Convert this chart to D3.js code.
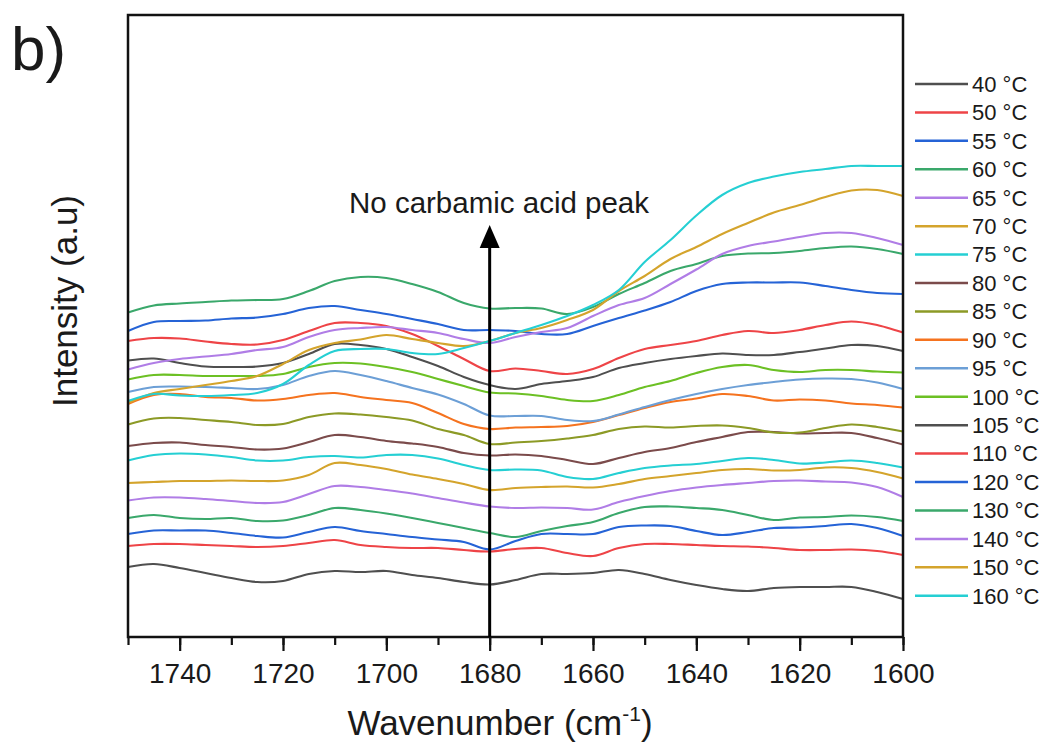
<!DOCTYPE html>
<html>
<head>
<meta charset="utf-8">
<script src="https://cdn.jsdelivr.net/npm/d3@7"></script>
<style>
  body { margin: 0; background: #fff; }
  svg { display: block; }
  text { font-family: "Liberation Sans", Arial, sans-serif; fill: #1a1a1a; }
</style>
</head>
<body>
<svg id="chart" width="1045" height="746"></svg>
<script>
// Wavenumber grid (cm-1), shared by every spectrum
const wavenumbers = d3.range(1750, 1599, -5);

const temperatures = ["40 °C", "50 °C", "55 °C", "60 °C", "65 °C", "70 °C", "75 °C", "80 °C", "85 °C",
  "90 °C", "95 °C", "100 °C", "105 °C", "110 °C", "120 °C", "130 °C", "140 °C", "150 °C", "160 °C"];

const colors = ["#4f4f4f", "#ee4447", "#2563d6", "#3aa86b", "#b07de6", "#d4a42c", "#25cfd3", "#7b4b4b", "#8c9a26",
  "#f5731f", "#6c9fd6", "#6cc024", "#4f4f4f", "#ee4447", "#2563d6", "#3aa86b", "#b07de6", "#d4a42c", "#25cfd3"];

// Stacked intensities (a.u.), one value per wavenumber
const s40  = [70,73,69,64,59,55,56,63,66,65,66,62,59,55,52.5,57,63,63,64,67,63,57,52,48,46,49,50,50,50,45,38];
const s50  = [91,93,93,92,91,90,91,94,97,92,90,89,89,87,85.5,88,89,84,81,89,93,93,92,91,90.5,89,87,87,87.5,86,82];
const s55  = [103,106.5,106.5,106.5,104,101,99.5,105,110,106,103,100,97.5,95,87.5,96,103,103,103,110,111.5,111,106,102,105,109,109.5,111,113,109,101];
const s60  = [119,122,119,118,119,116,116.5,122,129,127,123.5,119,114,109,104,100,106,111,115,124,130,130.5,129,127,122,117,119.5,120,121.5,120,116];
const s65  = [136.5,139.5,139.5,138,136,134,135,143,151,150,147,143.5,139,134.5,130.5,129,129.5,129,127.5,135,141,146,149.5,152,154,156,156.5,155.5,154.5,150,140];
const s70  = [154,155,156,156,156.5,156,156.5,162,174,172,168,162.5,158,153,147,149,150,150.5,149.5,153,158,161,164,167,168,166.5,167,169.5,169,165,158.5];
const s75  = [176.5,182,183.5,182.5,180,176.5,176.5,180,181,179.5,182,182,178.5,172,167,167.5,166.5,160,158,164,169,171.5,173,176,179,177,173.5,174.5,176.5,174,169.5];
const s80  = [191,194,194.5,192,190,187.5,188.5,195,202,200,196,193.5,190,184,181.5,182.5,181,177,173,179,185,189,195,200,205,205,203.5,204,204,199,192.5];
const s85  = [212.5,218.5,219,217,215,212,213,220,223.5,222.5,220,216.5,208,202,193,194.5,196,198.5,202,208,210.5,209.5,211,211.5,209,204.5,204.5,209,212.5,210,205.5];
const s90  = [233,242,243,240,239,236.5,238,242,244,240,237,234,224,213,208,209.5,210,211,215,222,229,235,238.5,243,241,236.5,237.5,236.5,233.5,232,229.5];
const s95  = [245,250,250.5,250,249,248,252,261,266,262,256,249,242.5,233,221.5,221,221,217,216,222.5,230,237,243,248,252,255,257.5,258.5,258,254.5,248];
const s100 = [257.5,262,262,261,261,261,263,270,274,273.5,270,265,258,251,244.5,243.5,241,237,236,242,250,256,264,270,272,267,265,267,267,265.5,264.5];
const s105 = [276.5,278.5,274,270.5,270,270.5,274,283,293,292,288,280,271,260,252,248,253,256,260,269,274,278,281,283.5,282,282,285,288.5,292,291,286];
const s110 = [296,299,298.5,295.5,293,292.5,297,306,314,314,311,303,291,278,266,268.5,266,263,268,279,288,292,296,302,306,304,307,312,315.5,312,304.5];
const s120 = [306,315,316,316.5,318.5,319.5,323,329,331,327,323,318,313,307,307,306,303,303,311,319,326.5,335,346,353,354.5,354.5,354.5,351,347,344,343];
const s130 = [324.5,331.5,333.5,335,336.5,337,338,346,356,360,359,353,345,334,328.5,329,328.5,323,330,343,354,366,373,381,383.5,384,386,389,390.5,388,383];
const s140 = [267.5,274,278,280.5,283,287,290,300,307,309,310,307,304,298,294,300,305,309,321,332,339,353,367.5,383,391,395.5,400,404,404,399,392];
const s150 = [234,244,248,252,256,261,273,287,294,297.5,302,298,294,291,296,304,309,317,327,346,361,378,390,403,414,424.5,432,440,446.5,447,441];
const s160 = [236,243,241.5,241,242,244,253,272,286,288,288,284,283,289,296,304,312,321,332,347,375,397,421.5,442,454,460.5,465,468,471,471,471];

const spectra = [s40, s50, s55, s60, s65, s70, s75, s80, s85, s90, s95, s100, s105, s110, s120, s130, s140, s150, s160];

const majorTicks = d3.range(1740, 1599, -20);
const minorTicks = d3.range(1750, 1599, -10);
const arrowAt = 1680;
const arrowLabel = "No carbamic acid peak";

const svg = d3.select("#chart");
const plot = { left: 128, right: 903, top: 15, bottom: 637 };

const x = d3.scaleLinear().domain([1750, 1600]).range([plot.left, plot.right]);
const y = d3.scaleLinear().domain([0, 622]).range([plot.bottom, plot.top]);

// Spectra
const line = d3.line()
  .x((d, i) => x(wavenumbers[i]))
  .y(d => y(d))
  .curve(d3.curveCatmullRom.alpha(0.5));

svg.append("g")
  .selectAll("path")
  .data(spectra)
  .join("path")
  .attr("d", line)
  .attr("fill", "none")
  .attr("stroke", (d, i) => colors[i])
  .attr("stroke-width", 2.1)
  .attr("stroke-linejoin", "round");

// Frame
svg.append("rect")
  .attr("x", plot.left).attr("y", plot.top)
  .attr("width", plot.right - plot.left).attr("height", plot.bottom - plot.top)
  .attr("fill", "none").attr("stroke", "#111").attr("stroke-width", 2.5);

// Bottom axis: minor ticks every 10, labelled majors every 20
const minorAxis = svg.append("g")
  .attr("transform", `translate(0,${plot.bottom})`)
  .call(d3.axisBottom(x).tickValues(minorTicks).tickSize(8).tickFormat(""));
minorAxis.select(".domain").remove();
minorAxis.selectAll("line").attr("stroke", "#111").attr("stroke-width", 2.2);

const majorAxis = svg.append("g")
  .attr("transform", `translate(0,${plot.bottom})`)
  .call(d3.axisBottom(x).tickValues(majorTicks).tickSize(14).tickPadding(12).tickFormat(d3.format("d")));
majorAxis.select(".domain").remove();
majorAxis.selectAll("line").attr("stroke", "#111").attr("stroke-width", 2.2);
majorAxis.selectAll("text")
  .attr("font-size", 28)
  .attr("font-family", "'Liberation Sans', Arial, sans-serif")
  .attr("fill", "#1a1a1a");

// Axis titles
const xTitle = svg.append("text")
  .attr("x", 500).attr("y", 735)
  .attr("text-anchor", "middle")
  .attr("font-size", 35);
xTitle.append("tspan").text("Wavenumber (cm");
xTitle.append("tspan").text("-1").attr("font-size", 21).attr("dy", -14);
xTitle.append("tspan").text(")").attr("dy", 14);

svg.append("text")
  .attr("transform", "translate(77,301) rotate(-90)")
  .attr("text-anchor", "middle")
  .attr("font-size", 35)
  .text("Intensity (a.u)");

// Panel letter
svg.append("text")
  .attr("x", 11).attr("y", 70)
  .attr("font-size", 62)
  .text("b)");

// Arrow marking 1680 cm-1
const ax = x(arrowAt);
svg.append("line")
  .attr("x1", ax).attr("x2", ax)
  .attr("y1", plot.bottom).attr("y2", 244)
  .attr("stroke", "#000").attr("stroke-width", 3);
svg.append("path")
  .attr("d", `M${ax},225 L${ax - 10},248 L${ax + 10},248 Z`)
  .attr("fill", "#000");
svg.append("text")
  .attr("x", 499).attr("y", 213)
  .attr("text-anchor", "middle")
  .attr("font-size", 29.5)
  .text(arrowLabel);

// Legend
const legend = svg.append("g");
const rowH = 28.43;
temperatures.forEach((t, i) => {
  const cy = 84 + i * rowH;
  legend.append("line")
    .attr("x1", 915).attr("x2", 968)
    .attr("y1", cy).attr("y2", cy)
    .attr("stroke", colors[i]).attr("stroke-width", 2.5);
  legend.append("text")
    .attr("x", 972).attr("y", cy + 7.8)
    .attr("font-size", 22)
    .attr("fill", "#333")
    .text(t);
});
</script>
</body>
</html>
